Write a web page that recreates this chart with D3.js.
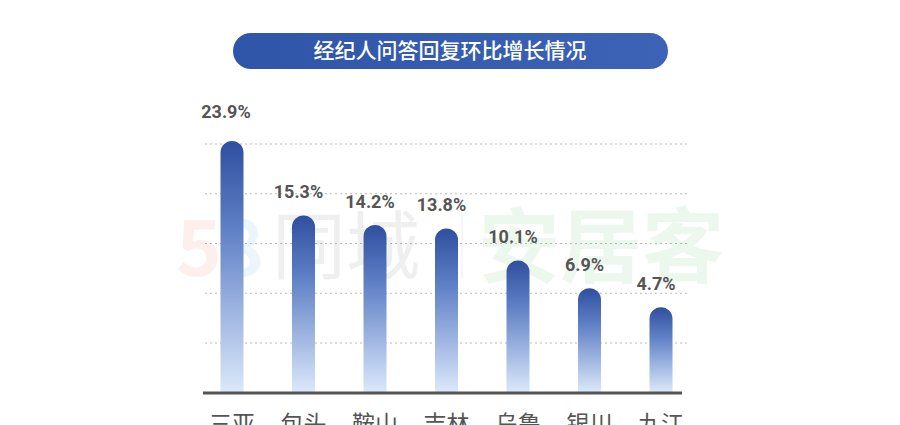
<!DOCTYPE html>
<html><head><meta charset="utf-8">
<script src="https://cdn.jsdelivr.net/npm/d3@7"></script>
<style>body{margin:0;background:#fff}svg{display:block;font-family:"Noto Sans CJK SC","Noto Sans",sans-serif}</style>
</head><body><svg id="c" width="900" height="425"></svg>
<script>
const title = '经纪人问答回复环比增长情况';
const cities = ['三亚', '包头', '鞍山', '吉林', '乌鲁', '银川', '九江'];
const growth = [23.9, 15.3, 14.2, 13.8, 10.1, 6.9, 4.7];
const gridTicks = [1, 2, 3, 4, 5];

const svg = d3.select('#c');
const base = 392;
const x = d3.scalePoint().domain(cities).range([232, 661]);
const y = d3.scaleLinear().domain([-5.1, 23.9]).range([base, 141]);
const gy = d3.scaleLinear().domain([1, 5]).range([343, 144]);
const bw = 23;

const defs = svg.append('defs');
const g = defs.append('linearGradient').attr('id', 'bg').attr('x1', 0).attr('x2', 0).attr('y1', 0).attr('y2', 1);
g.append('stop').attr('offset', 0).attr('stop-color', '#2f4f9f');
g.append('stop').attr('offset', 0.35).attr('stop-color', '#5f80c6');
g.append('stop').attr('offset', 1).attr('stop-color', '#dbe8fb');
const tg = defs.append('linearGradient').attr('id', 'tg');
tg.append('stop').attr('offset', 0).attr('stop-color', '#2f55a8');
tg.append('stop').attr('offset', 1).attr('stop-color', '#3d63b6');

// title pill
svg.append('rect').attr('x', 233).attr('y', 33).attr('width', 435).attr('height', 36).attr('rx', 18).attr('fill', 'url(#tg)');
svg.append('text').attr('x', 450).attr('y', 58).attr('text-anchor', 'middle').attr('fill', '#fff')
  .attr('font-size', 21).attr('font-weight', 500).text(title);

// grid
svg.append('g').selectAll('line').data(gridTicks).join('line')
  .attr('x1', 205).attr('x2', 687).attr('y1', d => gy(d)).attr('y2', d => gy(d))
  .attr('stroke', '#bbb').attr('stroke-dasharray', '2,3');

// watermark
const wm = svg.append('g').attr('opacity', 0.09).attr('font-weight', 'bold').attr('font-size', 78);
wm.append('text').attr('x', 176).attr('y', 276).attr('fill', '#e05a3a').text('5');
wm.append('text').attr('x', 218).attr('y', 276).attr('fill', '#3a8be0').text('8');
wm.append('text').attr('x', 272).attr('y', 273).attr('fill', '#555').attr('font-weight', 'normal').attr('font-size', 74).text('同城');
wm.append('line').attr('x1', 462).attr('x2', 462).attr('y1', 212).attr('y2', 278).attr('stroke', '#555').attr('stroke-width', 1);
wm.append('text').attr('x', 478).attr('y', 276).attr('fill', '#3bb34a').attr('font-size', 82).text('安居客');

// bars
svg.append('g').selectAll('path').data(cities).join('path')
  .attr('fill', 'url(#bg)')
  .attr('d', (c, i) => {
    const x0 = x(c) - bw / 2, t = y(growth[i]), r = bw / 2;
    return `M${x0},${base}V${t + r}A${r},${r} 0 0 1 ${x0 + bw},${t + r}V${base}Z`;
  });

// value labels
svg.append('g').selectAll('text').data(cities).join('text')
  .attr('x', (c, i) => x(c) - (i === 0 ? 6 : 5)).attr('y', (c, i) => y(growth[i]) - (i === 0 ? 23 : 17))
  .attr('text-anchor', 'middle').attr('fill', '#555').attr('font-size', 18).attr('font-weight', 'bold')
  .attr('font-family', 'Roboto, sans-serif')
  .text((c, i) => growth[i] + '%');

// baseline
svg.append('line').attr('x1', 203).attr('x2', 682).attr('y1', base + 1).attr('y2', base + 1)
  .attr('stroke', '#555').attr('stroke-width', 3);

// city labels
svg.append('g').selectAll('text').data(cities).join('text')
  .attr('x', c => x(c)).attr('y', 432).attr('text-anchor', 'middle')
  .attr('fill', '#555').attr('font-size', 23).text(c => c);
</script></body></html>
